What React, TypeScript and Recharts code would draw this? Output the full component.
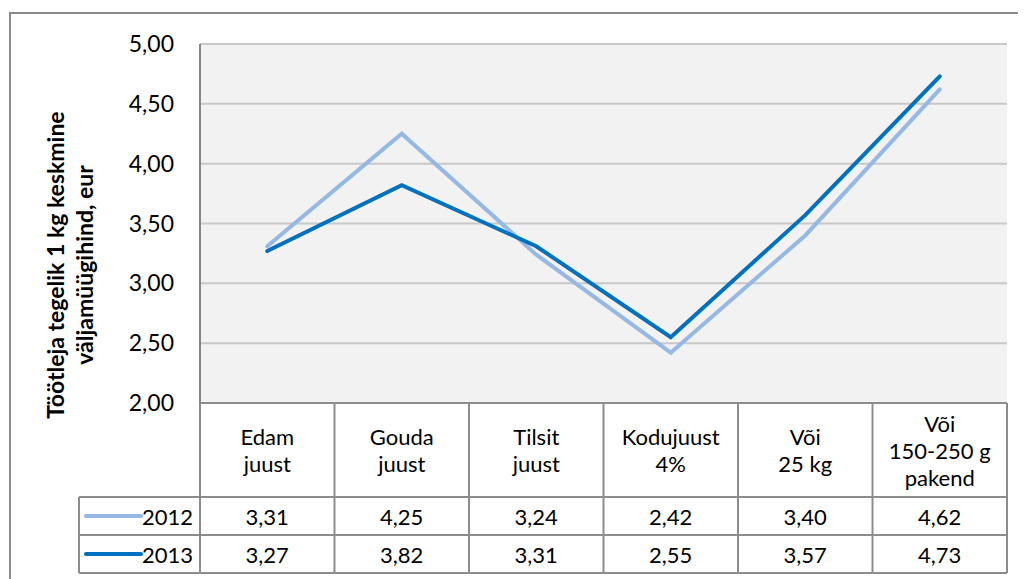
import { LineChart, Line, XAxis, YAxis, CartesianGrid } from 'recharts';

const categories = [
    ['Edam', 'juust'],
    ['Gouda', 'juust'],
    ['Tilsit', 'juust'],
    ['Kodujuust', '4%'],
    ['Või', '25 kg'],
    ['Või', '150-250 g', 'pakend'],
];
const series2012 = [3.31, 4.25, 3.24, 2.42, 3.40, 4.62];
const series2013 = [3.27, 3.82, 3.31, 2.55, 3.57, 4.73];
const seriesNames = ['2012', '2013'];
const yTicks = [2, 2.5, 3, 3.5, 4, 4.5, 5];
const yLabelLines = ['Töötleja tegelik 1 kg keskmine', 'väljamüügihind, eur'];

const COLORS = ['#95b8e4', '#0070c0'];
const FONT = 'Lato, "Open Sans", sans-serif';

const W = 1018;
const H = 571;
const M = { top: 36, right: 19, left: 0, bottom: 6 };
const Y_AXIS_W = 192;
const X_AXIS_H = 170;
const PLOT_BOTTOM = H - M.bottom - X_AXIS_H;
const BAND = (W - M.left - M.right - Y_AXIS_W) / categories.length;
const HEADER_H = 94;
const ROW_H = 38;
const BORDER = '#8c8c8c';
const LEGEND_LEFT = 71;
const TXT = 22;

const data = categories.map((c, i) => ({
    name: c.join(' '),
    y2012: series2012[i],
    y2013: series2013[i],
}));

const fmt = (v: number) => v.toFixed(2).replace('.', ',');

// draws the data table cell for each category under the plot
function TableTick(props: any) {
    const { x, index } = props;
    const lines = categories[index];
    const left = x - BAND / 2;
    const right = x + BAND / 2;
    const top = PLOT_BOTTOM;
    const r1 = top + HEADER_H;
    const r2 = r1 + ROW_H;
    const r3 = r2 + ROW_H;
    const lh = 27;
    const firstY = top + HEADER_H / 2 - ((lines.length - 1) * lh) / 2;
    const rows = [series2012, series2013];
    return (
        <g>
            <line x1={left} y1={top} x2={right} y2={top} stroke={BORDER} strokeWidth={2} />
            <line x1={left} y1={r1} x2={right} y2={r1} stroke={BORDER} strokeWidth={2} />
            <line x1={left} y1={r2} x2={right} y2={r2} stroke={BORDER} strokeWidth={2} />
            <line x1={left} y1={r3} x2={right} y2={r3} stroke={BORDER} strokeWidth={2} />
            <line x1={right} y1={top} x2={right} y2={r3} stroke={BORDER} strokeWidth={2} />
            {index === 0 && (
                <g>
                    <line x1={left} y1={top} x2={left} y2={r3} stroke={BORDER} strokeWidth={2} />
                    <line x1={LEGEND_LEFT} y1={r1} x2={left} y2={r1} stroke={BORDER} strokeWidth={2} />
                    <line x1={LEGEND_LEFT} y1={r2} x2={left} y2={r2} stroke={BORDER} strokeWidth={2} />
                    <line x1={LEGEND_LEFT} y1={r3} x2={left} y2={r3} stroke={BORDER} strokeWidth={2} />
                    <line x1={LEGEND_LEFT} y1={r1} x2={LEGEND_LEFT} y2={r3} stroke={BORDER} strokeWidth={2} />
                    {seriesNames.map((s, k) => (
                        <g key={s}>
                            <line x1={LEGEND_LEFT + 7} x2={LEGEND_LEFT + 62}
                                y1={r1 + ROW_H * k + ROW_H / 2} y2={r1 + ROW_H * k + ROW_H / 2}
                                stroke={COLORS[k]} strokeWidth={4} strokeLinecap="round" />
                            <text x={left - 7} y={r1 + ROW_H * k + ROW_H / 2} textAnchor="end"
                                dominantBaseline="central" fontSize={TXT} fill="#000" fontFamily={FONT}>{s}</text>
                        </g>
                    ))}
                </g>
            )}
            {lines.map((l, k) => (
                <text key={k} x={x} y={firstY + k * lh} textAnchor="middle" dominantBaseline="central"
                    fontSize={TXT} fill="#000" fontFamily={FONT}>{l}</text>
            ))}
            {rows.map((row, k) => (
                <text key={k} x={x} y={r1 + ROW_H * k + ROW_H / 2} textAnchor="middle" dominantBaseline="central"
                    fontSize={TXT} fill="#000" fontFamily={FONT}>{fmt(row[index])}</text>
            ))}
        </g>
    );
}

function YLabel() {
    const cy = 257;
    return (
        <g>
            {yLabelLines.map((l, k) => (
                <text key={k} x={47 + k * 29} y={cy} transform={`rotate(-90 ${47 + k * 29} ${cy})`}
                    textAnchor="middle" dominantBaseline="central" fontSize={23} fontWeight="bold"
                    fill="#000" fontFamily={FONT}>{l}</text>
            ))}
        </g>
    );
}

export default function App() {
    return (
        <div style={{ position: 'relative', width: W, height: H, overflow: 'hidden', background: '#fff' }}>
            <div style={{ position: 'absolute', left: 1, top: 4, width: W + 20, height: H + 20, border: '2px solid #8a8a8a', boxSizing: 'border-box' }} />
            <div style={{ position: 'absolute', left: 0, top: 0 }}>
                <LineChart width={W} height={H} data={data} margin={M}>
                    <CartesianGrid vertical={false} fill="#f2f2f2" stroke="#c8c8c8" strokeWidth={2} />
                    <XAxis dataKey="name" height={X_AXIS_H} axisLine={false} tickLine={false}
                        interval={0} padding={{ left: BAND / 2, right: BAND / 2 }} tick={<TableTick />} />
                    <YAxis width={Y_AXIS_W} domain={[2, 5]} ticks={yTicks} tickFormatter={fmt}
                        axisLine={{ stroke: '#868686', strokeWidth: 2 }} tickLine={false} tickMargin={20}
                        tick={{ fontSize: 23, fill: '#000', fontFamily: FONT }}
                        label={{ content: () => <YLabel /> }} />
                    <Line dataKey="y2012" stroke={COLORS[0]} strokeWidth={4} dot={false}
                        isAnimationActive={false} strokeLinecap="round" />
                    <Line dataKey="y2013" stroke={COLORS[1]} strokeWidth={4} dot={false}
                        isAnimationActive={false} strokeLinecap="round" />
                </LineChart>
            </div>
        </div>
    );
}
